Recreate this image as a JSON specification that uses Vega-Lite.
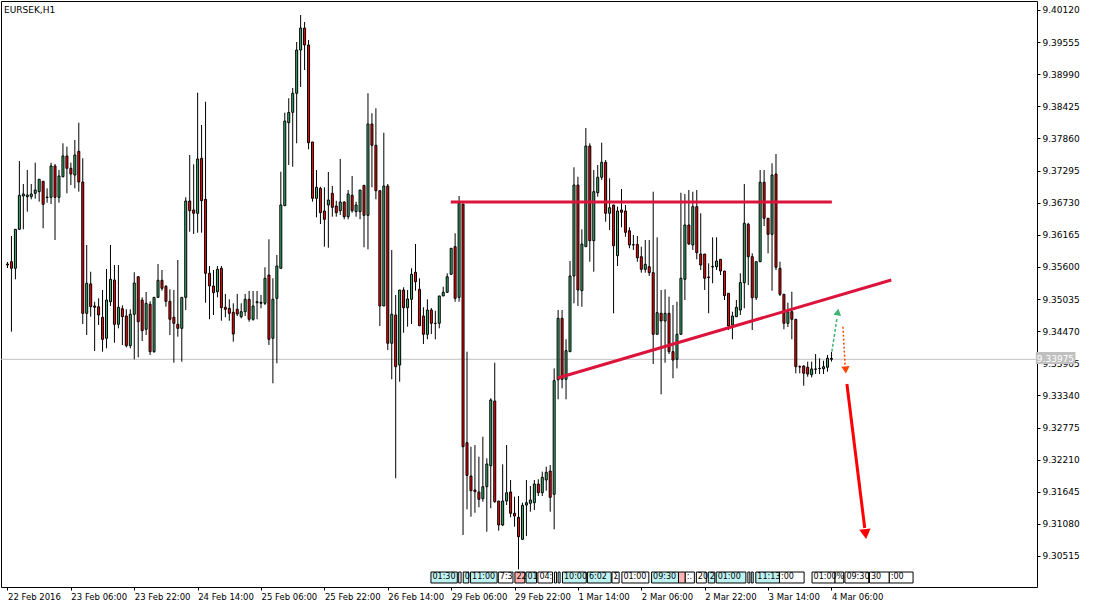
{
  "$schema": "https://vega.github.io/schema/vega-lite/v6.json",
  "width": 1036,
  "height": 586,
  "autosize": {"type": "none"},
  "padding": {"left": 1, "top": 1, "right": 56, "bottom": 21},
  "background": "#ffffff",
  "config": {
    "view": {"stroke": "#000000", "strokeWidth": 1},
    "font": "DejaVu Sans",
    "axis": {"tickSize": 3, "tickColor": "#000000", "labelPadding": 2, "labelFont": "DejaVu Sans", "labelFontSize": 9, "labelColor": "#000000", "labelOverlap": false, "labelFlush": false, "labelBound": false, "domain": false, "grid": false},
    "axisX": {"labelAlign": "left", "labelBaseline": "top", "labelFontSize": 8.5}
  },
  "title": {"text": "EURSEK,H1", "anchor": "start", "frame": "group", "orient": "top", "offset": -14, "dx": 3, "fontSize": 9, "fontWeight": "normal", "font": "DejaVu Sans", "color": "#000000"},
  "datasets": {
    "candles": [
      {"i":0,"o":9.35652,"h":9.35687,"l":9.35581,"c":9.35634},
      {"i":1,"o":9.35692,"h":9.36144,"l":9.34461,"c":9.35576},
      {"i":2,"o":9.35576,"h":9.36267,"l":9.35383,"c":9.36262},
      {"i":3,"o":9.36262,"h":9.37464,"l":9.36250,"c":9.36860},
      {"i":4,"o":9.36848,"h":9.37059,"l":9.36262,"c":9.36883},
      {"i":5,"o":9.36836,"h":9.37305,"l":9.36572,"c":9.36866},
      {"i":6,"o":9.36836,"h":9.37059,"l":9.36790,"c":9.36883},
      {"i":7,"o":9.36895,"h":9.37434,"l":9.36800,"c":9.36953},
      {"i":8,"o":9.36924,"h":9.37142,"l":9.36748,"c":9.37142},
      {"i":9,"o":9.37107,"h":9.37107,"l":9.36280,"c":9.36702},
      {"i":10,"o":9.36830,"h":9.36983,"l":9.36730,"c":9.36822},
      {"i":11,"o":9.36825,"h":9.37434,"l":9.36707,"c":9.37376},
      {"i":12,"o":9.37376,"h":9.37411,"l":9.36074,"c":9.36825},
      {"i":13,"o":9.36825,"h":9.37305,"l":9.36730,"c":9.37200},
      {"i":14,"o":9.37187,"h":9.37775,"l":9.37177,"c":9.37552},
      {"i":15,"o":9.37552,"h":9.37715,"l":9.36895,"c":9.37335},
      {"i":16,"o":9.37335,"h":9.37434,"l":9.37041,"c":9.37235},
      {"i":17,"o":9.37217,"h":9.37833,"l":9.36983,"c":9.37569},
      {"i":18,"o":9.37634,"h":9.38137,"l":9.36924,"c":9.37094},
      {"i":19,"o":9.37094,"h":9.37511,"l":9.34596,"c":9.34784},
      {"i":20,"o":9.34784,"h":9.35986,"l":9.34403,"c":9.35312},
      {"i":21,"o":9.35301,"h":9.35516,"l":9.34725,"c":9.34900},
      {"i":22,"o":9.34913,"h":9.34988,"l":9.34121,"c":9.34890},
      {"i":23,"o":9.34900,"h":9.35048,"l":9.34579,"c":9.34754},
      {"i":24,"o":9.34714,"h":9.35194,"l":9.34109,"c":9.34327},
      {"i":25,"o":9.34345,"h":9.35564,"l":9.34169,"c":9.35018},
      {"i":26,"o":9.34988,"h":9.35986,"l":9.34913,"c":9.35383},
      {"i":27,"o":9.35370,"h":9.35634,"l":9.34267,"c":9.34591},
      {"i":28,"o":9.34591,"h":9.35634,"l":9.34520,"c":9.34890},
      {"i":29,"o":9.34865,"h":9.34925,"l":9.34227,"c":9.34725},
      {"i":30,"o":9.34737,"h":9.34855,"l":9.34186,"c":9.34214},
      {"i":31,"o":9.34214,"h":9.34855,"l":9.34169,"c":9.34767},
      {"i":32,"o":9.34767,"h":9.35506,"l":9.33975,"c":9.35317},
      {"i":33,"o":9.35428,"h":9.35428,"l":9.34010,"c":9.34637},
      {"i":34,"o":9.35018,"h":9.35065,"l":9.34297,"c":9.34478},
      {"i":35,"o":9.34503,"h":9.35159,"l":9.34403,"c":9.34960},
      {"i":36,"o":9.34943,"h":9.34995,"l":9.34051,"c":9.34109},
      {"i":37,"o":9.34109,"h":9.35065,"l":9.34091,"c":9.35065},
      {"i":38,"o":9.35065,"h":9.35652,"l":9.35065,"c":9.35365},
      {"i":39,"o":9.35365,"h":9.35546,"l":9.35182,"c":9.35224},
      {"i":40,"o":9.35259,"h":9.35282,"l":9.34900,"c":9.34995},
      {"i":41,"o":9.34995,"h":9.35207,"l":9.34403,"c":9.34679},
      {"i":42,"o":9.34714,"h":9.35194,"l":9.33915,"c":9.34608},
      {"i":43,"o":9.34591,"h":9.35722,"l":9.34373,"c":9.34520},
      {"i":44,"o":9.34520,"h":9.35065,"l":9.33933,"c":9.35065},
      {"i":45,"o":9.35065,"h":9.36825,"l":9.34842,"c":9.36760},
      {"i":46,"o":9.36760,"h":9.37569,"l":9.36220,"c":9.36589},
      {"i":47,"o":9.36602,"h":9.37406,"l":9.36179,"c":9.36544},
      {"i":48,"o":9.36544,"h":9.38665,"l":9.36202,"c":9.37499},
      {"i":49,"o":9.37511,"h":9.38097,"l":9.36202,"c":9.36765},
      {"i":50,"o":9.36790,"h":9.38507,"l":9.34971,"c":9.35488},
      {"i":51,"o":9.35488,"h":9.35616,"l":9.34679,"c":9.35265},
      {"i":52,"o":9.35265,"h":9.35546,"l":9.34754,"c":9.35147},
      {"i":53,"o":9.35164,"h":9.35616,"l":9.35065,"c":9.35558},
      {"i":54,"o":9.35576,"h":9.35616,"l":9.34654,"c":9.34883},
      {"i":55,"o":9.34890,"h":9.35125,"l":9.34714,"c":9.34855},
      {"i":56,"o":9.34872,"h":9.35031,"l":9.34654,"c":9.34784},
      {"i":57,"o":9.34802,"h":9.34960,"l":9.34285,"c":9.34420},
      {"i":58,"o":9.34855,"h":9.35125,"l":9.34737,"c":9.34772},
      {"i":59,"o":9.34725,"h":9.34960,"l":9.34696,"c":9.34812},
      {"i":60,"o":9.34812,"h":9.35125,"l":9.34737,"c":9.35031},
      {"i":61,"o":9.35031,"h":9.35177,"l":9.34637,"c":9.34679},
      {"i":62,"o":9.34679,"h":9.35177,"l":9.34654,"c":9.34913},
      {"i":63,"o":9.34971,"h":9.35177,"l":9.34679,"c":9.34988},
      {"i":64,"o":9.34960,"h":9.35107,"l":9.34872,"c":9.34978},
      {"i":65,"o":9.34960,"h":9.35594,"l":9.34930,"c":9.35400},
      {"i":66,"o":9.35458,"h":9.36086,"l":9.34227,"c":9.34327},
      {"i":67,"o":9.34345,"h":9.35400,"l":9.33553,"c":9.35031},
      {"i":68,"o":9.35048,"h":9.35810,"l":9.33905,"c":9.35616},
      {"i":69,"o":9.35576,"h":9.37275,"l":9.35576,"c":9.36690},
      {"i":70,"o":9.36677,"h":9.38313,"l":9.36677,"c":9.38167},
      {"i":71,"o":9.38137,"h":9.38567,"l":9.37393,"c":9.38317},
      {"i":72,"o":9.38320,"h":9.38748,"l":9.37363,"c":9.38655},
      {"i":73,"o":9.38655,"h":9.39557,"l":9.37775,"c":9.39416},
      {"i":74,"o":9.39416,"h":9.40032,"l":9.38765,"c":9.39803},
      {"i":75,"o":9.39803,"h":9.39909,"l":9.39064,"c":9.39504},
      {"i":76,"o":9.39504,"h":9.39592,"l":9.37669,"c":9.37785},
      {"i":77,"o":9.37798,"h":9.37798,"l":9.36748,"c":9.36807},
      {"i":78,"o":9.36807,"h":9.37305,"l":9.36473,"c":9.37001},
      {"i":79,"o":9.36983,"h":9.37011,"l":9.36355,"c":9.36554},
      {"i":80,"o":9.36584,"h":9.37001,"l":9.35956,"c":9.36438},
      {"i":81,"o":9.36690,"h":9.37270,"l":9.35938,"c":9.36777},
      {"i":82,"o":9.36895,"h":9.37024,"l":9.36484,"c":9.36649},
      {"i":83,"o":9.36672,"h":9.36765,"l":9.36484,"c":9.36554},
      {"i":84,"o":9.36589,"h":9.37499,"l":9.36514,"c":9.36742},
      {"i":85,"o":9.36742,"h":9.36755,"l":9.36438,"c":9.36484},
      {"i":86,"o":9.36484,"h":9.36953,"l":9.36438,"c":9.36883},
      {"i":87,"o":9.36860,"h":9.37200,"l":9.36554,"c":9.36589},
      {"i":88,"o":9.36572,"h":9.36748,"l":9.36484,"c":9.36690},
      {"i":89,"o":9.36572,"h":9.36953,"l":9.36438,"c":9.36953},
      {"i":90,"o":9.37036,"h":9.37041,"l":9.35945,"c":9.36508},
      {"i":91,"o":9.36508,"h":9.38655,"l":9.35910,"c":9.38114},
      {"i":92,"o":9.38114,"h":9.38303,"l":9.37001,"c":9.37740},
      {"i":93,"o":9.37740,"h":9.38391,"l":9.36790,"c":9.36941},
      {"i":94,"o":9.36941,"h":9.36941,"l":9.34561,"c":9.34913},
      {"i":95,"o":9.34913,"h":9.37961,"l":9.34913,"c":9.37024},
      {"i":96,"o":9.37024,"h":9.37059,"l":9.34139,"c":9.34257},
      {"i":97,"o":9.34257,"h":9.35898,"l":9.33623,"c":9.34767},
      {"i":98,"o":9.34754,"h":9.35107,"l":9.31882,"c":9.33845},
      {"i":99,"o":9.33875,"h":9.35194,"l":9.33581,"c":9.35194},
      {"i":100,"o":9.35194,"h":9.35242,"l":9.34443,"c":9.34883},
      {"i":101,"o":9.34883,"h":9.35194,"l":9.34549,"c":9.35036},
      {"i":102,"o":9.35031,"h":9.35576,"l":9.34596,"c":9.35470},
      {"i":103,"o":9.35506,"h":9.36003,"l":9.35182,"c":9.35340},
      {"i":104,"o":9.35207,"h":9.35400,"l":9.34566,"c":9.34566},
      {"i":105,"o":9.34737,"h":9.34890,"l":9.34244,"c":9.34415},
      {"i":106,"o":9.34415,"h":9.35031,"l":9.34327,"c":9.34842},
      {"i":107,"o":9.34842,"h":9.34878,"l":9.34420,"c":9.34608},
      {"i":108,"o":9.34608,"h":9.34830,"l":9.34327,"c":9.34605},
      {"i":109,"o":9.34608,"h":9.35089,"l":9.34520,"c":9.35089},
      {"i":110,"o":9.35089,"h":9.35252,"l":9.35089,"c":9.35154},
      {"i":111,"o":9.35154,"h":9.35488,"l":9.35147,"c":9.35428},
      {"i":112,"o":9.35470,"h":9.35933,"l":9.35470,"c":9.35928},
      {"i":113,"o":9.35956,"h":9.36192,"l":9.34988,"c":9.35048},
      {"i":114,"o":9.35065,"h":9.36848,"l":9.34988,"c":9.36719},
      {"i":115,"o":9.36707,"h":9.36707,"l":9.30884,"c":9.32438},
      {"i":116,"o":9.32508,"h":9.34109,"l":9.31336,"c":9.31931},
      {"i":117,"o":9.31922,"h":9.32438,"l":9.31206,"c":9.31663},
      {"i":118,"o":9.31676,"h":9.32467,"l":9.31276,"c":9.31646},
      {"i":119,"o":9.31641,"h":9.32262,"l":9.31371,"c":9.31512},
      {"i":120,"o":9.31523,"h":9.32613,"l":9.31470,"c":9.31734},
      {"i":121,"o":9.31734,"h":9.32233,"l":9.30942,"c":9.32133},
      {"i":122,"o":9.32103,"h":9.33289,"l":9.31354,"c":9.33259},
      {"i":123,"o":9.33241,"h":9.33915,"l":9.31452,"c":9.31470},
      {"i":124,"o":9.31482,"h":9.31482,"l":9.30960,"c":9.31060},
      {"i":125,"o":9.31060,"h":9.32128,"l":9.31042,"c":9.31482},
      {"i":126,"o":9.31482,"h":9.32467,"l":9.31412,"c":9.31628},
      {"i":127,"o":9.31641,"h":9.31852,"l":9.31196,"c":9.31266},
      {"i":128,"o":9.31266,"h":9.31558,"l":9.31030,"c":9.31218},
      {"i":129,"o":9.31196,"h":9.31570,"l":9.30281,"c":9.30854},
      {"i":130,"o":9.30808,"h":9.31452,"l":9.30796,"c":9.31407},
      {"i":131,"o":9.31412,"h":9.31852,"l":9.30867,"c":9.31452},
      {"i":132,"o":9.31442,"h":9.31746,"l":9.31294,"c":9.31500},
      {"i":133,"o":9.31452,"h":9.31852,"l":9.31324,"c":9.31781},
      {"i":134,"o":9.31781,"h":9.31864,"l":9.31570,"c":9.31628},
      {"i":135,"o":9.31628,"h":9.31998,"l":9.31570,"c":9.31899},
      {"i":136,"o":9.31852,"h":9.32086,"l":9.31663,"c":9.31987},
      {"i":137,"o":9.32010,"h":9.32116,"l":9.31294,"c":9.31547},
      {"i":138,"o":9.31600,"h":9.33815,"l":9.30984,"c":9.33599},
      {"i":139,"o":9.33616,"h":9.34842,"l":9.33271,"c":9.34696},
      {"i":140,"o":9.34696,"h":9.34842,"l":9.33465,"c":9.33623},
      {"i":141,"o":9.33623,"h":9.34327,"l":9.33271,"c":9.34126},
      {"i":142,"o":9.34109,"h":9.35704,"l":9.34109,"c":9.35441},
      {"i":143,"o":9.35441,"h":9.37353,"l":9.34960,"c":9.37041},
      {"i":144,"o":9.37041,"h":9.37187,"l":9.34913,"c":9.35194},
      {"i":145,"o":9.35182,"h":9.36262,"l":9.34900,"c":9.36003},
      {"i":146,"o":9.35956,"h":9.38044,"l":9.35956,"c":9.37727},
      {"i":147,"o":9.37727,"h":9.37775,"l":9.35692,"c":9.36061},
      {"i":148,"o":9.36061,"h":9.37305,"l":9.35516,"c":9.36924},
      {"i":149,"o":9.36906,"h":9.37393,"l":9.36836,"c":9.37177},
      {"i":150,"o":9.37177,"h":9.37785,"l":9.37129,"c":9.37441},
      {"i":151,"o":9.37441,"h":9.37481,"l":9.36396,"c":9.36544},
      {"i":152,"o":9.36544,"h":9.37159,"l":9.36250,"c":9.36642},
      {"i":153,"o":9.36690,"h":9.36690,"l":9.34784,"c":9.35973},
      {"i":154,"o":9.35798,"h":9.36660,"l":9.35616,"c":9.36584},
      {"i":155,"o":9.36602,"h":9.36971,"l":9.36297,"c":9.36561},
      {"i":156,"o":9.36584,"h":9.36690,"l":9.36132,"c":9.36209},
      {"i":157,"o":9.36237,"h":9.36297,"l":9.35928,"c":9.35986},
      {"i":158,"o":9.35991,"h":9.36162,"l":9.35898,"c":9.35986},
      {"i":159,"o":9.35998,"h":9.36144,"l":9.35692,"c":9.35762},
      {"i":160,"o":9.35780,"h":9.35956,"l":9.35499,"c":9.35558},
      {"i":161,"o":9.35558,"h":9.36074,"l":9.35499,"c":9.35646},
      {"i":162,"o":9.35604,"h":9.36074,"l":9.35441,"c":9.35499},
      {"i":163,"o":9.35499,"h":9.36924,"l":9.33892,"c":9.34415},
      {"i":164,"o":9.34415,"h":9.36121,"l":9.34415,"c":9.34795},
      {"i":165,"o":9.34784,"h":9.35194,"l":9.33359,"c":9.34649},
      {"i":166,"o":9.34649,"h":9.35207,"l":9.33915,"c":9.34784},
      {"i":167,"o":9.34784,"h":9.35076,"l":9.34068,"c":9.34109},
      {"i":168,"o":9.34109,"h":9.34930,"l":9.33641,"c":9.33963},
      {"i":169,"o":9.33975,"h":9.34988,"l":9.33815,"c":9.34415},
      {"i":170,"o":9.34415,"h":9.36906,"l":9.34415,"c":9.35400},
      {"i":171,"o":9.35383,"h":9.36883,"l":9.35018,"c":9.36338},
      {"i":172,"o":9.36338,"h":9.36953,"l":9.35986,"c":9.36003},
      {"i":173,"o":9.35986,"h":9.36924,"l":9.35898,"c":9.36660},
      {"i":174,"o":9.36660,"h":9.36953,"l":9.35734,"c":9.35850},
      {"i":175,"o":9.35827,"h":9.36544,"l":9.35546,"c":9.35634},
      {"i":176,"o":9.35827,"h":9.35827,"l":9.35194,"c":9.35400},
      {"i":177,"o":9.35423,"h":9.35664,"l":9.34784,"c":9.35414},
      {"i":178,"o":9.35599,"h":9.36121,"l":9.35312,"c":9.35608},
      {"i":179,"o":9.35604,"h":9.36121,"l":9.35546,"c":9.35704},
      {"i":180,"o":9.35734,"h":9.35734,"l":9.35458,"c":9.35528},
      {"i":181,"o":9.35528,"h":9.35528,"l":9.35018,"c":9.35095},
      {"i":182,"o":9.35136,"h":9.35136,"l":9.34490,"c":9.34561},
      {"i":183,"o":9.34579,"h":9.34812,"l":9.34327,"c":9.34737},
      {"i":184,"o":9.34725,"h":9.35018,"l":9.34719,"c":9.34890},
      {"i":185,"o":9.34842,"h":9.35488,"l":9.34754,"c":9.35326},
      {"i":186,"o":9.35323,"h":9.37059,"l":9.34872,"c":9.36368},
      {"i":187,"o":9.36350,"h":9.36378,"l":9.35282,"c":9.35780},
      {"i":188,"o":9.35780,"h":9.35840,"l":9.34490,"c":9.35058},
      {"i":189,"o":9.35058,"h":9.35692,"l":9.35018,"c":9.35692},
      {"i":190,"o":9.35692,"h":9.37305,"l":9.35692,"c":9.37089},
      {"i":191,"o":9.37089,"h":9.37305,"l":9.36320,"c":9.36456},
      {"i":192,"o":9.36456,"h":9.36456,"l":9.35840,"c":9.36174},
      {"i":193,"o":9.36174,"h":9.37423,"l":9.35182,"c":9.37217},
      {"i":194,"o":9.37235,"h":9.37587,"l":9.35546,"c":9.35594},
      {"i":195,"o":9.35576,"h":9.35692,"l":9.35089,"c":9.35119},
      {"i":196,"o":9.35119,"h":9.35119,"l":9.34503,"c":9.34608},
      {"i":197,"o":9.34608,"h":9.34971,"l":9.34543,"c":9.34812},
      {"i":198,"o":9.34812,"h":9.35164,"l":9.34327,"c":9.34679},
      {"i":199,"o":9.34679,"h":9.34679,"l":9.33729,"c":9.33845},
      {"i":200,"o":9.33845,"h":9.33869,"l":9.33729,"c":9.33840},
      {"i":201,"o":9.33857,"h":9.33869,"l":9.33510,"c":9.33729},
      {"i":202,"o":9.33835,"h":9.33933,"l":9.33669,"c":9.33716},
      {"i":203,"o":9.33704,"h":9.33933,"l":9.33658,"c":9.33805},
      {"i":204,"o":9.33805,"h":9.34068,"l":9.33716,"c":9.33801},
      {"i":205,"o":9.33815,"h":9.33993,"l":9.33716,"c":9.33812},
      {"i":206,"o":9.33808,"h":9.33950,"l":9.33716,"c":9.33845},
      {"i":207,"o":9.33835,"h":9.34051,"l":9.33757,"c":9.33993},
      {"i":208,"o":9.33990,"h":9.34104,"l":9.33935,"c":9.33975}
    ],
    "trend": [
      {"line":"top","i":111.9,"p":9.36742},
      {"line":"top","i":208.1,"p":9.36742},
      {"line":"rise","i":138.9,"p":9.33646},
      {"line":"rise","i":223.1,"p":9.35370}
    ],
    "arrows": [
      {"name":"up","i":208.1,"p":9.34109},
      {"name":"up","i":209.4,"p":9.34702},
      {"name":"down","i":210.9,"p":9.34549},
      {"name":"down","i":211.45,"p":9.33857},
      {"name":"target","i":211.9,"p":9.33541},
      {"name":"target","i":216.4,"p":9.31007}
    ],
    "heads": [
      {"name":"up","i":209.6,"p":9.34807},
      {"name":"down","i":211.6,"p":9.33787},
      {"name":"target","i":216.6,"p":9.30902}
    ],
    "events": [
      {"i0":106.9,"i1":113.55,"t":"01:30","k":"c"},
      {"i0":113.9,"i1":114.5,"t":"","k":"w"},
      {"i0":115.05,"i1":116.45,"t":"0","k":"c"},
      {"i0":116.9,"i1":123.6,"t":"11:00","k":"c"},
      {"i0":123.9,"i1":127.6,"t":"7:3","k":"w"},
      {"i0":128.1,"i1":130.6,"t":"22","k":"p"},
      {"i0":130.9,"i1":133.55,"t":"01","k":"c"},
      {"i0":133.9,"i1":137.6,"t":"04:","k":"w"},
      {"i0":138.1,"i1":138.6,"t":"","k":"w"},
      {"i0":139.0,"i1":139.5,"t":"","k":"c"},
      {"i0":140.1,"i1":146.1,"t":"10:00","k":"c"},
      {"i0":146.4,"i1":152.4,"t":"6:02","k":"c"},
      {"i0":152.6,"i1":154.4,"t":"Σ","k":"w"},
      {"i0":155.1,"i1":161.9,"t":"01:00","k":"w"},
      {"i0":162.6,"i1":169.4,"t":"09:30","k":"c"},
      {"i0":169.4,"i1":171.1,"t":"","k":"p"},
      {"i0":171.1,"i1":173.4,"t":":.","k":"w"},
      {"i0":173.9,"i1":176.4,"t":"20","k":"w"},
      {"i0":176.9,"i1":178.55,"t":"2","k":"c"},
      {"i0":178.9,"i1":186.4,"t":"01:00","k":"c"},
      {"i0":186.9,"i1":187.4,"t":"","k":"w"},
      {"i0":187.75,"i1":188.25,"t":"","k":"c"},
      {"i0":188.9,"i1":194.9,"t":"11:13","k":"c"},
      {"i0":194.9,"i1":201.1,"t":":00","k":"w"},
      {"i0":203.1,"i1":208.9,"t":"01:00","k":"w"},
      {"i0":208.9,"i1":211.1,"t":"%","k":"w"},
      {"i0":211.4,"i1":217.4,"t":"09:30","k":"w"},
      {"i0":217.6,"i1":222.6,"t":"30","k":"w"},
      {"i0":222.6,"i1":228.6,"t":":00","k":"w"}
    ],
    "lastprice": [
      {"i0":259.6,"i1":269.6,"p":9.33975,"top":9.34104,"bottom":9.33892,"label":"9.33975"}
    ]
  },
  "layer": [
    {
      "data": {"name": "lastprice"},
      "mark": {"type": "rule", "color": "#c0c0c0", "strokeWidth": 1},
      "encoding": {
        "y": {"field": "p", "type": "quantitative", "scale": {"domain": [9.299695, 9.402783], "nice": false, "zero": false},
          "axis": {"orient": "right", "values": [9.30515,9.3108,9.31645,9.3221,9.32775,9.3334,9.33905,9.3447,9.35035,9.356,9.36165,9.3673,9.37295,9.3786,9.38425,9.3899,9.39555,9.4012], "format": ".5f", "title": null}}
      }
    },
    {
      "data": {"name": "candles"},
      "mark": {"type": "rule", "color": "#000000", "strokeWidth": 1},
      "encoding": {
        "x": {"field": "i", "type": "quantitative", "scale": {"domain": [-0.375, 258.625], "nice": false, "zero": false},
          "axis": {"orient": "bottom", "values": [0,16,32,48,64,80,96,112,128,144,160,176,192,208], "labelExpr": "['22 Feb 2016','23 Feb 06:00','23 Feb 22:00','24 Feb 14:00','25 Feb 06:00','25 Feb 22:00','26 Feb 14:00','29 Feb 06:00','29 Feb 22:00','1 Mar 14:00','2 Mar 06:00','2 Mar 22:00','3 Mar 14:00','4 Mar 06:00'][round(datum.value/16)]", "title": null}},
        "y": {"field": "l", "type": "quantitative", "scale": {"domain": [9.299695, 9.402783], "nice": false, "zero": false},
          "axis": {"orient": "right", "values": [9.30515,9.3108,9.31645,9.3221,9.32775,9.3334,9.33905,9.3447,9.35035,9.356,9.36165,9.3673,9.37295,9.3786,9.38425,9.3899,9.39555,9.4012], "format": ".5f", "title": null}},
        "y2": {"field": "h"}
      }
    },
    {
      "data": {"name": "candles"},
      "mark": {"type": "bar", "width": 2, "stroke": "#000000", "strokeWidth": 1},
      "encoding": {
        "x": {"field": "i", "type": "quantitative", "scale": {"domain": [-0.375, 258.625], "nice": false, "zero": false},
          "axis": {"orient": "bottom", "values": [0,16,32,48,64,80,96,112,128,144,160,176,192,208], "labelExpr": "['22 Feb 2016','23 Feb 06:00','23 Feb 22:00','24 Feb 14:00','25 Feb 06:00','25 Feb 22:00','26 Feb 14:00','29 Feb 06:00','29 Feb 22:00','1 Mar 14:00','2 Mar 06:00','2 Mar 22:00','3 Mar 14:00','4 Mar 06:00'][round(datum.value/16)]", "title": null}},
        "y": {"field": "o", "type": "quantitative", "scale": {"domain": [9.299695, 9.402783], "nice": false, "zero": false},
          "axis": {"orient": "right", "values": [9.30515,9.3108,9.31645,9.3221,9.32775,9.3334,9.33905,9.3447,9.35035,9.356,9.36165,9.3673,9.37295,9.3786,9.38425,9.3899,9.39555,9.4012], "format": ".5f", "title": null}},
        "y2": {"field": "c"},
        "fill": {"condition": {"test": "datum.c >= datum.o", "value": "#3cb371"}, "value": "#ff0000"}
      }
    },
    {
      "data": {"name": "trend"},
      "mark": {"type": "line", "color": "#dc143c", "strokeWidth": 3},
      "encoding": {
        "x": {"field": "i", "type": "quantitative", "scale": {"domain": [-0.375, 258.625], "nice": false, "zero": false},
          "axis": {"orient": "bottom", "values": [0,16,32,48,64,80,96,112,128,144,160,176,192,208], "labelExpr": "['22 Feb 2016','23 Feb 06:00','23 Feb 22:00','24 Feb 14:00','25 Feb 06:00','25 Feb 22:00','26 Feb 14:00','29 Feb 06:00','29 Feb 22:00','1 Mar 14:00','2 Mar 06:00','2 Mar 22:00','3 Mar 14:00','4 Mar 06:00'][round(datum.value/16)]", "title": null}},
        "y": {"field": "p", "type": "quantitative", "scale": {"domain": [9.299695, 9.402783], "nice": false, "zero": false},
          "axis": {"orient": "right", "values": [9.30515,9.3108,9.31645,9.3221,9.32775,9.3334,9.33905,9.3447,9.35035,9.356,9.36165,9.3673,9.37295,9.3786,9.38425,9.3899,9.39555,9.4012], "format": ".5f", "title": null}},
        "detail": {"field": "line"}
      }
    },
    {
      "data": {"name": "arrows"},
      "transform": [{"filter": "datum.name === 'up'"}],
      "mark": {"type": "line", "color": "#3cb371", "strokeWidth": 1.5, "strokeDash": [3, 2]},
      "encoding": {
        "x": {"field": "i", "type": "quantitative", "scale": {"domain": [-0.375, 258.625], "nice": false, "zero": false},
          "axis": {"orient": "bottom", "values": [0,16,32,48,64,80,96,112,128,144,160,176,192,208], "labelExpr": "['22 Feb 2016','23 Feb 06:00','23 Feb 22:00','24 Feb 14:00','25 Feb 06:00','25 Feb 22:00','26 Feb 14:00','29 Feb 06:00','29 Feb 22:00','1 Mar 14:00','2 Mar 06:00','2 Mar 22:00','3 Mar 14:00','4 Mar 06:00'][round(datum.value/16)]", "title": null}},
        "y": {"field": "p", "type": "quantitative", "scale": {"domain": [9.299695, 9.402783], "nice": false, "zero": false},
          "axis": {"orient": "right", "values": [9.30515,9.3108,9.31645,9.3221,9.32775,9.3334,9.33905,9.3447,9.35035,9.356,9.36165,9.3673,9.37295,9.3786,9.38425,9.3899,9.39555,9.4012], "format": ".5f", "title": null}}
      }
    },
    {
      "data": {"name": "arrows"},
      "transform": [{"filter": "datum.name === 'down'"}],
      "mark": {"type": "line", "color": "#ff4500", "strokeWidth": 1.5, "strokeDash": [2, 2]},
      "encoding": {
        "x": {"field": "i", "type": "quantitative", "scale": {"domain": [-0.375, 258.625], "nice": false, "zero": false},
          "axis": {"orient": "bottom", "values": [0,16,32,48,64,80,96,112,128,144,160,176,192,208], "labelExpr": "['22 Feb 2016','23 Feb 06:00','23 Feb 22:00','24 Feb 14:00','25 Feb 06:00','25 Feb 22:00','26 Feb 14:00','29 Feb 06:00','29 Feb 22:00','1 Mar 14:00','2 Mar 06:00','2 Mar 22:00','3 Mar 14:00','4 Mar 06:00'][round(datum.value/16)]", "title": null}},
        "y": {"field": "p", "type": "quantitative", "scale": {"domain": [9.299695, 9.402783], "nice": false, "zero": false},
          "axis": {"orient": "right", "values": [9.30515,9.3108,9.31645,9.3221,9.32775,9.3334,9.33905,9.3447,9.35035,9.356,9.36165,9.3673,9.37295,9.3786,9.38425,9.3899,9.39555,9.4012], "format": ".5f", "title": null}}
      }
    },
    {
      "data": {"name": "arrows"},
      "transform": [{"filter": "datum.name === 'target'"}],
      "mark": {"type": "line", "color": "#ff0000", "strokeWidth": 3},
      "encoding": {
        "x": {"field": "i", "type": "quantitative", "scale": {"domain": [-0.375, 258.625], "nice": false, "zero": false},
          "axis": {"orient": "bottom", "values": [0,16,32,48,64,80,96,112,128,144,160,176,192,208], "labelExpr": "['22 Feb 2016','23 Feb 06:00','23 Feb 22:00','24 Feb 14:00','25 Feb 06:00','25 Feb 22:00','26 Feb 14:00','29 Feb 06:00','29 Feb 22:00','1 Mar 14:00','2 Mar 06:00','2 Mar 22:00','3 Mar 14:00','4 Mar 06:00'][round(datum.value/16)]", "title": null}},
        "y": {"field": "p", "type": "quantitative", "scale": {"domain": [9.299695, 9.402783], "nice": false, "zero": false},
          "axis": {"orient": "right", "values": [9.30515,9.3108,9.31645,9.3221,9.32775,9.3334,9.33905,9.3447,9.35035,9.356,9.36165,9.3673,9.37295,9.3786,9.38425,9.3899,9.39555,9.4012], "format": ".5f", "title": null}}
      }
    },
    {
      "data": {"name": "heads"},
      "transform": [{"filter": "datum.name === 'up'"}],
      "mark": {"type": "point", "shape": "triangle-up", "filled": true, "color": "#3cb371", "size": 60, "angle": 9, "opacity": 1},
      "encoding": {
        "x": {"field": "i", "type": "quantitative", "scale": {"domain": [-0.375, 258.625], "nice": false, "zero": false},
          "axis": {"orient": "bottom", "values": [0,16,32,48,64,80,96,112,128,144,160,176,192,208], "labelExpr": "['22 Feb 2016','23 Feb 06:00','23 Feb 22:00','24 Feb 14:00','25 Feb 06:00','25 Feb 22:00','26 Feb 14:00','29 Feb 06:00','29 Feb 22:00','1 Mar 14:00','2 Mar 06:00','2 Mar 22:00','3 Mar 14:00','4 Mar 06:00'][round(datum.value/16)]", "title": null}},
        "y": {"field": "p", "type": "quantitative", "scale": {"domain": [9.299695, 9.402783], "nice": false, "zero": false},
          "axis": {"orient": "right", "values": [9.30515,9.3108,9.31645,9.3221,9.32775,9.3334,9.33905,9.3447,9.35035,9.356,9.36165,9.3673,9.37295,9.3786,9.38425,9.3899,9.39555,9.4012], "format": ".5f", "title": null}}
      }
    },
    {
      "data": {"name": "heads"},
      "transform": [{"filter": "datum.name === 'down'"}],
      "mark": {"type": "point", "shape": "triangle-down", "filled": true, "color": "#ff4500", "size": 70, "angle": 356, "opacity": 1},
      "encoding": {
        "x": {"field": "i", "type": "quantitative", "scale": {"domain": [-0.375, 258.625], "nice": false, "zero": false},
          "axis": {"orient": "bottom", "values": [0,16,32,48,64,80,96,112,128,144,160,176,192,208], "labelExpr": "['22 Feb 2016','23 Feb 06:00','23 Feb 22:00','24 Feb 14:00','25 Feb 06:00','25 Feb 22:00','26 Feb 14:00','29 Feb 06:00','29 Feb 22:00','1 Mar 14:00','2 Mar 06:00','2 Mar 22:00','3 Mar 14:00','4 Mar 06:00'][round(datum.value/16)]", "title": null}},
        "y": {"field": "p", "type": "quantitative", "scale": {"domain": [9.299695, 9.402783], "nice": false, "zero": false},
          "axis": {"orient": "right", "values": [9.30515,9.3108,9.31645,9.3221,9.32775,9.3334,9.33905,9.3447,9.35035,9.356,9.36165,9.3673,9.37295,9.3786,9.38425,9.3899,9.39555,9.4012], "format": ".5f", "title": null}}
      }
    },
    {
      "data": {"name": "heads"},
      "transform": [{"filter": "datum.name === 'target'"}],
      "mark": {"type": "point", "shape": "triangle-down", "filled": true, "color": "#ff0000", "size": 130, "angle": 353, "opacity": 1},
      "encoding": {
        "x": {"field": "i", "type": "quantitative", "scale": {"domain": [-0.375, 258.625], "nice": false, "zero": false},
          "axis": {"orient": "bottom", "values": [0,16,32,48,64,80,96,112,128,144,160,176,192,208], "labelExpr": "['22 Feb 2016','23 Feb 06:00','23 Feb 22:00','24 Feb 14:00','25 Feb 06:00','25 Feb 22:00','26 Feb 14:00','29 Feb 06:00','29 Feb 22:00','1 Mar 14:00','2 Mar 06:00','2 Mar 22:00','3 Mar 14:00','4 Mar 06:00'][round(datum.value/16)]", "title": null}},
        "y": {"field": "p", "type": "quantitative", "scale": {"domain": [9.299695, 9.402783], "nice": false, "zero": false},
          "axis": {"orient": "right", "values": [9.30515,9.3108,9.31645,9.3221,9.32775,9.3334,9.33905,9.3447,9.35035,9.356,9.36165,9.3673,9.37295,9.3786,9.38425,9.3899,9.39555,9.4012], "format": ".5f", "title": null}}
      }
    },
    {
      "data": {"name": "events"},
      "mark": {"type": "rect", "stroke": "#000000", "strokeWidth": 1},
      "encoding": {
        "x": {"field": "i0", "type": "quantitative", "scale": {"domain": [-0.375, 258.625], "nice": false, "zero": false},
          "axis": {"orient": "bottom", "values": [0,16,32,48,64,80,96,112,128,144,160,176,192,208], "labelExpr": "['22 Feb 2016','23 Feb 06:00','23 Feb 22:00','24 Feb 14:00','25 Feb 06:00','25 Feb 22:00','26 Feb 14:00','29 Feb 06:00','29 Feb 22:00','1 Mar 14:00','2 Mar 06:00','2 Mar 22:00','3 Mar 14:00','4 Mar 06:00'][round(datum.value/16)]", "title": null}},
        "x2": {"field": "i1"},
        "y": {"datum": 9.30233, "type": "quantitative", "scale": {"domain": [9.299695, 9.402783], "nice": false, "zero": false},
          "axis": {"orient": "right", "values": [9.30515,9.3108,9.31645,9.3221,9.32775,9.3334,9.33905,9.3447,9.35035,9.356,9.36165,9.3673,9.37295,9.3786,9.38425,9.3899,9.39555,9.4012], "format": ".5f", "title": null}},
        "y2": {"datum": 9.30040},
        "fill": {"field": "k", "type": "nominal", "scale": {"domain": ["c", "p", "w"], "range": ["#bff2f2", "#ffb4b4", "#ffffff"]}, "legend": null}
      }
    },
    {
      "data": {"name": "events"},
      "mark": {"type": "text", "align": "left", "baseline": "middle", "dx": 1.5, "fontSize": 8, "font": "DejaVu Sans", "color": "#000000"},
      "encoding": {
        "x": {"field": "i0", "type": "quantitative", "scale": {"domain": [-0.375, 258.625], "nice": false, "zero": false},
          "axis": {"orient": "bottom", "values": [0,16,32,48,64,80,96,112,128,144,160,176,192,208], "labelExpr": "['22 Feb 2016','23 Feb 06:00','23 Feb 22:00','24 Feb 14:00','25 Feb 06:00','25 Feb 22:00','26 Feb 14:00','29 Feb 06:00','29 Feb 22:00','1 Mar 14:00','2 Mar 06:00','2 Mar 22:00','3 Mar 14:00','4 Mar 06:00'][round(datum.value/16)]", "title": null}},
        "y": {"datum": 9.30137, "type": "quantitative", "scale": {"domain": [9.299695, 9.402783], "nice": false, "zero": false},
          "axis": {"orient": "right", "values": [9.30515,9.3108,9.31645,9.3221,9.32775,9.3334,9.33905,9.3447,9.35035,9.356,9.36165,9.3673,9.37295,9.3786,9.38425,9.3899,9.39555,9.4012], "format": ".5f", "title": null}},
        "text": {"field": "t"}
      }
    },
    {
      "data": {"name": "lastprice"},
      "mark": {"type": "rect", "color": "#c0c0c0"},
      "encoding": {
        "x": {"field": "i0", "type": "quantitative", "scale": {"domain": [-0.375, 258.625], "nice": false, "zero": false},
          "axis": {"orient": "bottom", "values": [0,16,32,48,64,80,96,112,128,144,160,176,192,208], "labelExpr": "['22 Feb 2016','23 Feb 06:00','23 Feb 22:00','24 Feb 14:00','25 Feb 06:00','25 Feb 22:00','26 Feb 14:00','29 Feb 06:00','29 Feb 22:00','1 Mar 14:00','2 Mar 06:00','2 Mar 22:00','3 Mar 14:00','4 Mar 06:00'][round(datum.value/16)]", "title": null}},
        "x2": {"field": "i1"},
        "y": {"field": "top", "type": "quantitative", "scale": {"domain": [9.299695, 9.402783], "nice": false, "zero": false},
          "axis": {"orient": "right", "values": [9.30515,9.3108,9.31645,9.3221,9.32775,9.3334,9.33905,9.3447,9.35035,9.356,9.36165,9.3673,9.37295,9.3786,9.38425,9.3899,9.39555,9.4012], "format": ".5f", "title": null}},
        "y2": {"field": "bottom"}
      }
    },
    {
      "data": {"name": "lastprice"},
      "mark": {"type": "text", "align": "left", "baseline": "middle", "dx": 1, "fontSize": 9, "font": "DejaVu Sans", "color": "#ffffff"},
      "encoding": {
        "x": {"field": "i0", "type": "quantitative", "scale": {"domain": [-0.375, 258.625], "nice": false, "zero": false},
          "axis": {"orient": "bottom", "values": [0,16,32,48,64,80,96,112,128,144,160,176,192,208], "labelExpr": "['22 Feb 2016','23 Feb 06:00','23 Feb 22:00','24 Feb 14:00','25 Feb 06:00','25 Feb 22:00','26 Feb 14:00','29 Feb 06:00','29 Feb 22:00','1 Mar 14:00','2 Mar 06:00','2 Mar 22:00','3 Mar 14:00','4 Mar 06:00'][round(datum.value/16)]", "title": null}},
        "y": {"field": "p", "type": "quantitative", "scale": {"domain": [9.299695, 9.402783], "nice": false, "zero": false},
          "axis": {"orient": "right", "values": [9.30515,9.3108,9.31645,9.3221,9.32775,9.3334,9.33905,9.3447,9.35035,9.356,9.36165,9.3673,9.37295,9.3786,9.38425,9.3899,9.39555,9.4012], "format": ".5f", "title": null}},
        "text": {"field": "label"}
      }
    }
  ]
}
